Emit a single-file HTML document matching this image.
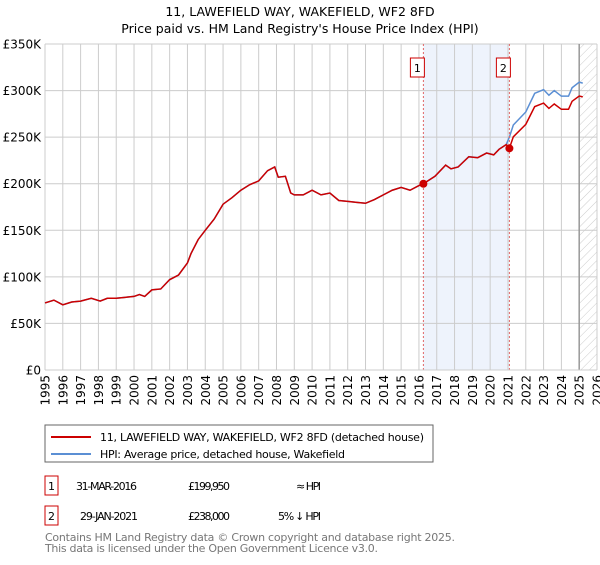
<!DOCTYPE html>
<html><head><meta charset="utf-8"><style>
body{margin:0;background:#fff;font-family:"Liberation Sans","DejaVu Sans",sans-serif;}
svg text{font-family:"DejaVu Sans","Liberation Sans",sans-serif;}
</style></head><body>
<svg id="c" width="600" height="560" xmlns="http://www.w3.org/2000/svg">
<defs><pattern id="hatch" width="6" height="6" patternUnits="userSpaceOnUse" patternTransform="rotate(45)"><line x1="0" y1="0" x2="0" y2="6" stroke="#ccc" stroke-width="1"/></pattern></defs>
<text x="300" y="16" text-anchor="middle" font-size="12.5">11, LAWEFIELD WAY, WAKEFIELD, WF2 8FD</text>
<text x="300" y="33" text-anchor="middle" font-size="12.5">Price paid vs. HM Land Registry's House Price Index (HPI)</text>
<g id="grid"></g><g id="marks"></g><g id="axes"></g>
<rect x="45" y="425" width="388" height="37" fill="#fff" stroke="#666"/>
<line x1="51" y1="437" x2="91" y2="437" stroke="#cc0000" stroke-width="2"/>
<text x="100" y="441" font-size="11" textLength="324">11, LAWEFIELD WAY, WAKEFIELD, WF2 8FD (detached house)</text>
<line x1="51" y1="454" x2="91" y2="454" stroke="#5b8fd4" stroke-width="2"/>
<text x="100" y="458" font-size="11" textLength="245">HPI: Average price, detached house, Wakefield</text>
<g>
<rect x="45" y="476" width="13" height="19" fill="#fff" stroke="#cc0000"/><text x="51.5" y="490" text-anchor="middle" font-size="11">1</text>
<text x="76" y="490" font-size="11" textLength="61">31-MAR-2016</text><text x="188" y="490" font-size="11" textLength="42">£199,950</text><text x="296" y="490" font-size="11" textLength="25">≈ HPI</text></g>
<g>
<rect x="45" y="506" width="13" height="19" fill="#fff" stroke="#cc0000"/><text x="51.5" y="520" text-anchor="middle" font-size="11">2</text>
<text x="80" y="520" font-size="11" textLength="58">29-JAN-2021</text><text x="188" y="520" font-size="11" textLength="42">£238,000</text><text x="278" y="520" font-size="11" textLength="43">5% ↓ HPI</text></g>
<text x="45" y="541" font-size="11" fill="#777" textLength="410">Contains HM Land Registry data © Crown copyright and database right 2025.</text>
<text x="45" y="552" font-size="11" fill="#777" textLength="333">This data is licensed under the Open Government Licence v3.0.</text>
</svg>
<script>
const hpiDates=[1995,1995.5,1996,1996.5,1997,1997.6,1998.1,1998.5,1999,1999.5,2000,2000.3,2000.6,2001,2001.5,2002,2002.5,2003,2003.2,2003.6,2004,2004.5,2005,2005.5,2006,2006.5,2007,2007.5,2007.9,2008.1,2008.5,2008.8,2009,2009.5,2010,2010.5,2011,2011.5,2012,2012.5,2013,2013.5,2014,2014.5,2015,2015.5,2016,2016.25,2016.9,2017.5,2017.8,2018.2,2018.8,2019.3,2019.8,2020.2,2020.5,2020.9,2021.08,2021.3,2022,2022.5,2023,2023.3,2023.6,2024,2024.4,2024.6,2025,2025.2];
const hpiValues=[72,75,70,73,74,77,74,77,77,78,79,81,79,86,87,97,102,115,125,140,150,162,178,185,193,199,203,214,218,207,208,190,188,188,193,188,190,182,181,180,179,183,188,193,196,193,198,200,208,220,216,218,229,228,233,231,237,242,250,263,277,297,301,295,300,294,294,303,309,308];
const saleDates=[2016.25,2021.08];
const salePrices=[199.95,238];
const yTicks=[0,50,100,150,200,250,300,350];
const yTickLabels=["£0","£50K","£100K","£150K","£200K","£250K","£300K","£350K"];
const xYears=[1995,1996,1997,1998,1999,2000,2001,2002,2003,2004,2005,2006,2007,2008,2009,2010,2011,2012,2013,2014,2015,2016,2017,2018,2019,2020,2021,2022,2023,2024,2025,2026];
const X=t=>45+(t-1995)*(597-45)/31;
const Y=v=>370-v*(370-44)/350;
const NS="http://www.w3.org/2000/svg";
function mk(tag,attrs,parent){const e=document.createElementNS(NS,tag);for(const k in attrs)e.setAttribute(k,attrs[k]);parent.appendChild(e);return e;}
const grid=document.getElementById('grid'),marks=document.getElementById('marks'),axes=document.getElementById('axes');
mk('rect',{x:X(saleDates[0]),y:44,width:X(saleDates[1])-X(saleDates[0]),height:326,fill:'#eef3fc'},grid);
mk('rect',{x:X(2025),y:44,width:597-X(2025),height:326,fill:'url(#hatch)'},grid);
xYears.forEach((yr,i)=>{mk('line',{x1:X(yr),y1:44,x2:X(yr),y2:370,stroke:'#ccc'},grid);
 const t=mk('text',{x:0,y:0,'font-size':12,'text-anchor':'end',transform:`translate(${X(yr)+4.5},375) rotate(-90)`},axes);t.textContent=yr;
 
 });
yTicks.forEach((v,i)=>{mk('line',{x1:45,y1:Y(v),x2:597,y2:Y(v),stroke:'#ccc'},grid);
 const t=mk('text',{x:41,y:Y(v)+4.5,'font-size':12,'text-anchor':'end'},axes);t.textContent=yTickLabels[i];
 
 });
mk('line',{x1:X(2025),y1:44,x2:X(2025),y2:370,stroke:'#999','stroke-width':1.5},grid);
function hpiAt(t){for(let i=1;i<hpiDates.length;i++){if(t<=hpiDates[i]){const f=(t-hpiDates[i-1])/(hpiDates[i]-hpiDates[i-1]);return hpiValues[i-1]+f*(hpiValues[i]-hpiValues[i-1]);}}return hpiValues[hpiValues.length-1];}
const hp=mk('polyline',{points:hpiDates.map((d,i)=>X(d)+','+Y(hpiValues[i])).join(' '),fill:'none',stroke:'#5b8fd4','stroke-width':1.5},marks);


const prop=hpiDates.map((d,i)=>{let r=1;for(let k=saleDates.length-1;k>=0;k--){if(d>=saleDates[k]){r=salePrices[k]/hpiAt(saleDates[k]);break;}}return X(d)+','+Y(hpiValues[i]*r);});
const pl=mk('polyline',{points:prop.join(' '),fill:'none',stroke:'#cc0000','stroke-width':1.5},marks);


saleDates.forEach((d,k)=>{
 mk('line',{x1:X(d),y1:44,x2:X(d),y2:370,stroke:'#e06666','stroke-dasharray':'2,2'},marks);
 const b=mk('g',{},marks);
 
 
 mk('rect',{x:X(d)-13,y:58,width:14,height:19,fill:'#fff',stroke:'#cc0000'},b);
 const t=mk('text',{x:X(d)-6,y:72,'font-size':11,'text-anchor':'middle'},b);t.textContent=String(k+1);
 const c=mk('circle',{cx:X(d),cy:Y(salePrices[k]),r:4,fill:'#cc0000'},marks);
 
 
});
mk('line',{x1:45,y1:370,x2:597,y2:370,stroke:'#ccc'},axes);
</script>
</body></html>
